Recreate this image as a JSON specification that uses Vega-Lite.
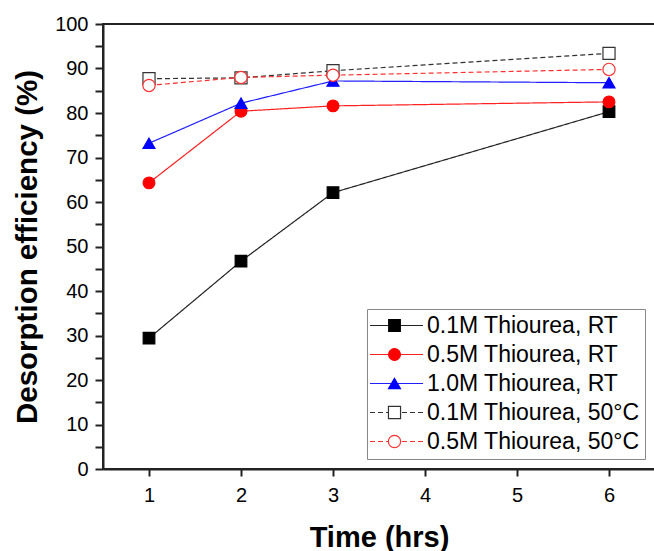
{
  "$schema": "https://vega.github.io/schema/vega-lite/v6.json",
  "width": 552,
  "height": 445,
  "autosize": {"type": "none"},
  "padding": {"left": 103, "top": 24, "right": 0, "bottom": 82},
  "background": "white",
  "config": {
    "view": {"stroke": "#222", "strokeWidth": 2},
    "font": "Liberation Sans",
    "axis": {
      "domainColor": "#222", "domainWidth": 2, "tickColor": "#222", "tickWidth": 2,
      "labelColor": "black", "labelFont": "Liberation Sans", "labelFontSize": 20,
      "titleFont": "Liberation Sans", "titleFontWeight": "bold", "titleFontSize": 29, "titleColor": "black",
      "grid": false
    }
  },
  "data": {"values": [
    {"t": 1, "v": 29.4, "series": "0.1M Thiourea, RT", "sym": "s1"},
    {"t": 2, "v": 46.7, "series": "0.1M Thiourea, RT", "sym": "s1"},
    {"t": 3, "v": 62.1, "series": "0.1M Thiourea, RT", "sym": "s1"},
    {"t": 6, "v": 80.3, "series": "0.1M Thiourea, RT", "sym": "s1"},
    {"t": 1, "v": 64.3, "series": "0.5M Thiourea, RT", "sym": "s2"},
    {"t": 2, "v": 80.4, "series": "0.5M Thiourea, RT", "sym": "s2"},
    {"t": 3, "v": 81.6, "series": "0.5M Thiourea, RT", "sym": "s2"},
    {"t": 6, "v": 82.5, "series": "0.5M Thiourea, RT", "sym": "s2"},
    {"t": 1, "v": 73.2, "series": "1.0M Thiourea, RT", "sym": "s3"},
    {"t": 2, "v": 82.2, "series": "1.0M Thiourea, RT", "sym": "s3"},
    {"t": 3, "v": 87.2, "series": "1.0M Thiourea, RT", "sym": "s3"},
    {"t": 6, "v": 86.8, "series": "1.0M Thiourea, RT", "sym": "s3"},
    {"t": 1, "v": 87.7, "series": "0.1M Thiourea, 50°C", "sym": "s4"},
    {"t": 2, "v": 87.9, "series": "0.1M Thiourea, 50°C", "sym": "s4"},
    {"t": 3, "v": 89.5, "series": "0.1M Thiourea, 50°C", "sym": "s4"},
    {"t": 6, "v": 93.4, "series": "0.1M Thiourea, 50°C", "sym": "s4"},
    {"t": 1, "v": 86.2, "series": "0.5M Thiourea, 50°C", "sym": "s5"},
    {"t": 2, "v": 88.0, "series": "0.5M Thiourea, 50°C", "sym": "s5"},
    {"t": 3, "v": 88.5, "series": "0.5M Thiourea, 50°C", "sym": "s5"},
    {"t": 6, "v": 89.8, "series": "0.5M Thiourea, 50°C", "sym": "s5"}
  ]},
  "encoding": {
    "x": {
      "field": "t", "type": "quantitative",
      "scale": {"domain": [0.5, 6.5], "nice": false, "zero": false},
      "axis": {
        "title": "Time (hrs)",
        "values": [1, 1.5, 2, 2.5, 3, 3.5, 4, 4.5, 5, 5.5, 6],
        "labelExpr": "datum.value % 1 === 0 ? datum.label : ''",
        "format": "d",
        "tickSize": 7, "labelPadding": 9, "labelFlush": false,
        "titleY": 77, "titleBaseline": "alphabetic",
        "encode": {"ticks": {"update": {"y2": {"signal": "datum.value % 1 === 0 ? 7 : 4"}}}}
      }
    },
    "y": {
      "field": "v", "type": "quantitative",
      "scale": {"domain": [0, 100], "nice": false},
      "axis": {
        "title": "Desorption efficiency (%)",
        "titleFontSize": 29.5,
        "values": [0, 5, 10, 15, 20, 25, 30, 35, 40, 45, 50, 55, 60, 65, 70, 75, 80, 85, 90, 95, 100],
        "labelExpr": "datum.value % 10 === 0 ? datum.label : ''",
        "tickSize": 8, "labelPadding": 7, "labelFlush": false,
        "titleX": -67, "titleBaseline": "alphabetic",
        "encode": {"ticks": {"update": {"x2": {"signal": "datum.value % 10 === 0 ? -8 : -4"}}}}
      }
    }
  },
  "layer": [
    {
      "mark": {"type": "line", "strokeWidth": 1.2},
      "encoding": {
        "color": {
          "field": "series", "type": "nominal",
          "scale": {
            "domain": ["0.1M Thiourea, RT", "0.5M Thiourea, RT", "1.0M Thiourea, RT", "0.1M Thiourea, 50°C", "0.5M Thiourea, 50°C"],
            "range": ["#222222", "#ff2020", "#2020ff", "#333333", "#ff3030"]
          },
          "legend": {
            "title": null, "orient": "none", "legendX": 264, "legendY": 285,
            "symbolType": "M-3.375,0H9.875", "symbolSize": 64, "symbolStrokeWidth": 1.2,
            "labelFontSize": 23, "labelFont": "Liberation Sans", "labelColor": "black",
            "labelOffset": 32, "labelLimit": 400, "padding": 5, "rowPadding": 5,
            "strokeColor": "#888888", "fillColor": "white"
          }
        },
        "strokeDash": {
          "field": "series", "type": "nominal",
          "scale": {
            "domain": ["0.1M Thiourea, RT", "0.5M Thiourea, RT", "1.0M Thiourea, RT", "0.1M Thiourea, 50°C", "0.5M Thiourea, 50°C"],
            "range": [[1, 0], [1, 0], [1, 0], [5, 3], [5, 3]]
          }
        }
      }
    },
    {
      "mark": {"type": "point", "opacity": 1, "strokeWidth": 1.2},
      "encoding": {
        "shape": {
          "field": "sym", "type": "nominal",
          "scale": {"domain": ["s1", "s2", "s3", "s4", "s5"], "range": ["square", "circle", "triangle-up", "square", "circle"]},
          "legend": {
            "title": null, "orient": "none", "legendX": 275, "legendY": 285,
            "labelFontSize": 23, "labelFont": "Liberation Sans", "labelExpr": "''",
            "padding": 5, "rowPadding": 5, "symbolStrokeWidth": 1.2
          }
        },
        "fill": {
          "field": "sym", "type": "nominal",
          "scale": {"domain": ["s1", "s2", "s3", "s4", "s5"], "range": ["#000000", "#ff0000", "#0000ff", "#ffffff", "#ffffff"]}
        },
        "stroke": {
          "field": "sym", "type": "nominal",
          "scale": {"domain": ["s1", "s2", "s3", "s4", "s5"], "range": ["#000000", "#ff0000", "#0000ff", "#333333", "#ff3030"]}
        },
        "size": {
          "field": "sym", "type": "ordinal",
          "scale": {"domain": ["s1", "s2", "s3", "s4", "s5"], "range": [135, 150, 220, 130, 150]}
        }
      }
    }
  ]
}
